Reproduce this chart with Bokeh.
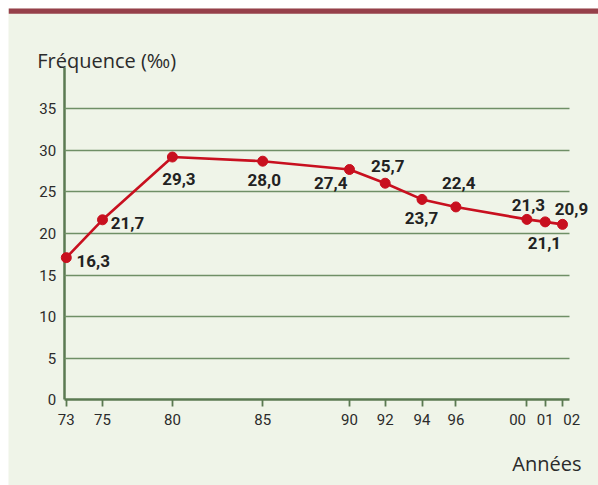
from bokeh.plotting import figure
from bokeh.models import ColumnDataSource, FixedTicker, Label, BoxAnnotation, Range1d
from bokeh.core.properties import value
from bokeh.embed import file_html
from bokeh.resources import INLINE

# ---- data ----
years = ["73", "75", "80", "85", "90", "92", "94", "96", "00", "01", "02"]
# position of each year on the (irregularly spaced) time axis of the original
axis_pos = [0.21, 3.83, 10.82, 19.85, 28.53, 32.1, 35.78, 39.17, 46.27, 48.1, 49.83]
# plotted height of each point (as drawn)
freq = [17.1, 21.65, 29.2, 28.7, 27.7, 26.05, 24.1, 23.2, 21.7, 21.4, 21.1]
# printed value labels
freq_labels = ["16,3", "21,7", "29,3", "28,0", "27,4", "25,7", "23,7", "22,4", "21,3", "21,1", "20,9"]
y_ticks = [0, 5, 10, 15, 20, 25, 30, 35]
Y_TOP = 40          # top of the value axis
X_END = 50.5        # end of the time axis

# ---- style ----
BG = "#eff4e8"
RED = "#c8101f"
BAR = "#96404a"
GRID = "#6f8f66"
AXIS = "#5b7a52"
TXT = "#2b2b2b"
TICK_FONT = "Roboto"
LAB_FONT = "Roboto"
TITLE_FONT = "Open Sans"
# label offsets in screen pixels (dx, dy) relative to each point
lab_dx = [27, 25, 6.5, 1.5, -18.7, 2.5, -0.5, 2.8, 1.5, -0.8, 9]
lab_dy = [3.5, 3.2, 21.7, 19, 13.2, -17.4, 19, -24.3, -14.5, 21, -15.2]

# ---- geometry (pixels) ----
W, H = 590, 477
PX_X, PX_Y = 10.0, 8.314      # pixels per axis unit
X0_PX, Y0_PX = 55.7, 391.3    # where x=0 / y=0 lie inside the canvas
x_range = Range1d(-X0_PX / PX_X, (W - X0_PX) / PX_X)
y_range = Range1d(-(H - Y0_PX) / PX_Y, Y0_PX / PX_Y)

p = figure(width=W, height=H, x_range=x_range, y_range=y_range,
           output_backend="svg", toolbar_location=None,
           min_border=0, min_border_left=0, min_border_right=0,
           min_border_top=0, min_border_bottom=0)
p.margin = (8, 0, 0, 8)
p.background_fill_color = BG
p.border_fill_color = "white"
p.outline_line_color = None

p.xgrid.visible = False
p.ygrid.ticker = FixedTicker(ticks=[t for t in y_ticks if t > 0])
p.ygrid.grid_line_color = GRID
p.ygrid.grid_line_width = 1.6
p.ygrid.cross_bounds = (0, X_END)

sp = "\u00a0" * 5
overrides = {pos: lab for pos, lab in zip(axis_pos, years)}
overrides[axis_pos[-3]] = years[-3] + sp
overrides[axis_pos[-1]] = sp + years[-1]

p.yaxis.ticker = FixedTicker(ticks=y_ticks)
p.xaxis.ticker = FixedTicker(ticks=axis_pos)
p.xaxis.major_label_overrides = overrides
p.xaxis.bounds = (0, X_END)
p.yaxis.bounds = (0, Y_TOP)
p.xaxis.fixed_location = 0
p.yaxis.fixed_location = 0
for ax in (p.xaxis, p.yaxis):
    ax.axis_line_color = AXIS
    ax.axis_line_width = 2.5
    ax.major_tick_line_color = AXIS
    ax.major_tick_line_width = 1.8
    ax.minor_tick_line_color = None
    ax.major_label_text_font = TICK_FONT
    ax.major_label_text_font_size = "15px"
    ax.major_label_text_color = TXT
    ax.level = "underlay"
p.yaxis.major_tick_out = 0
p.yaxis.major_tick_in = 0
p.yaxis.major_label_standoff = 8
p.xaxis.major_tick_out = 7
p.xaxis.major_tick_in = 0
p.xaxis.major_label_standoff = 4

src = ColumnDataSource(dict(x=axis_pos, y=freq, lab=freq_labels, dx=lab_dx, dy=lab_dy))
p.line("x", "y", source=src, line_color=RED, line_width=2.6)
p.scatter("x", "y", source=src, size=10, fill_color=RED, line_color=RED)
p.text("x", "y", text="lab", source=src, x_offset="dx", y_offset="dy",
       text_align="center", text_baseline="middle",
       text_font=value(LAB_FONT), text_font_style="bold",
       text_font_size="17px", text_color="#222222")

# top decorative bar and axis titles
p.add_layout(BoxAnnotation(top=y_range.end + 1, bottom=(Y0_PX - 5.3) / PX_Y,
                           fill_color=BAR, fill_alpha=1, line_color=None))
p.add_layout(Label(x=-27 / PX_X, y=Y_TOP + 7 / PX_Y, text="Fréquence (‰)",
                   text_font=TITLE_FONT, text_font_size="20px", text_color=TXT,
                   text_baseline="alphabetic"))
p.add_layout(Label(x=X_END + 12.3 / PX_X, y=-63.5 / PX_Y, text="Années",
                   text_font=TITLE_FONT, text_font_size="20px", text_color=TXT,
                   text_align="right", text_baseline="alphabetic"))

open("out.html", "w").write(file_html(p, INLINE))
